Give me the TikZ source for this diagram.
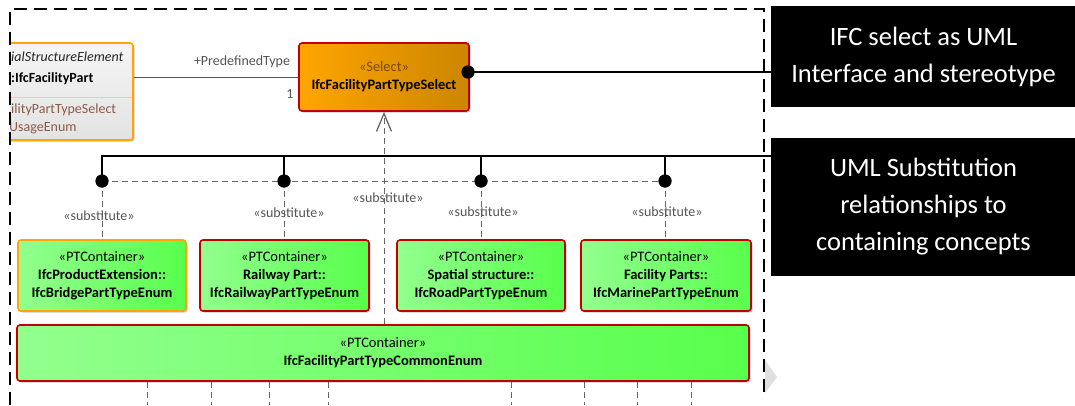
\documentclass[tikz,border=0pt]{standalone}
\usepackage{fontspec}
\setmainfont{Carlito}
\usetikzlibrary{arrows.meta,shadows}
\definecolor{boxred}{HTML}{C00000}
\definecolor{lgreen}{HTML}{92FF8E}
\definecolor{dgreen}{HTML}{58FF4C}
\definecolor{orng}{HTML}{FFA500}
\definecolor{dorng}{HTML}{CC8600}
\definecolor{selbrown}{HTML}{7A4A10}
\definecolor{attrbrown}{HTML}{8C5A48}
\definecolor{linegray}{HTML}{555555}
\tikzset{
  boxshadow/.style={drop shadow={shadow xshift=1.5pt,shadow yshift=-1.5pt,fill=black!22,opacity=1}},
  greenbox/.style={draw=boxred,line width=1.6pt,rounded corners=3pt,left color=lgreen,right color=dgreen,
    align=center,inner sep=0pt,font=\fontsize{14.5}{18}\selectfont,boxshadow},
  bridgebox/.style={greenbox,draw=orng},
  selbox/.style={draw=boxred,line width=1.6pt,rounded corners=3pt,left color=orng,right color=dorng,
    align=center,inner sep=0pt,font=\fontsize{14.4}{17}\selectfont,boxshadow},
  classbox/.style={draw=orng,line width=1.6pt,rounded corners=3pt,top color=black!4,bottom color=black!11,inner sep=0pt,boxshadow},
  callout/.style={fill=black,text=white,align=center,inner sep=0pt,font=\fontsize{26.5}{37}\selectfont},
  bigdot/.style={circle,fill=black,inner sep=0pt,minimum size=13pt},
  bus/.style={draw=black,line width=2.2pt},
  subline/.style={draw=linegray!90,line width=1pt,dash pattern=on 6pt off 4pt},
  sublabel/.style={text=linegray,font=\fontsize{14}{16}\selectfont,inner sep=0pt},
  frameline/.style={draw=black,line width=2.2pt,dash pattern=on 13pt off 7pt},
  txt/.style={inner sep=0pt,font=\fontsize{14}{16}\selectfont},
}
\begin{document}
\begin{tikzpicture}[x=1pt,y=-1pt]
\useasboundingbox (0,0) rectangle (1075,405);

% left class box (clipped by frame)
\begin{scope}
\clip (10,0) rectangle (1075,405);
\node[classbox,minimum width=143pt,minimum height=97pt] (spatial) at (61.5,91.5) {};
\draw[orng!55,line width=1pt] (-20,97) -- (132,97);
\node[txt,anchor=west,text=black!85] (sp1) at (11,57) {\itshape ialStructureElement};
\node[txt,anchor=west] (sp2) at (11,79) {\bfseries :IfcFacilityPart};
\node[txt,anchor=west,text=attrbrown] (sp3) at (11,110) {ilityPartTypeSelect};
\node[txt,anchor=west,text=attrbrown] (sp4) at (9,128) {UsageEnum};
\end{scope}

% select box
\node[selbox,minimum width=170pt,minimum height=68pt] (select) at (384,77)
  {\textcolor{selbrown}{«Select»}\\[1pt] \bfseries IfcFacilityPartTypeSelect};

% association
\draw[linegray,line width=1pt] (select.west -| spatial.east) -- (select.west);
\node[txt,text=linegray] (role) at (242,62) {+PredefinedType};
\node[txt,text=linegray] (mult) at (290,94) {1};

% green boxes
\node[bridgebox,minimum width=168pt,minimum height=71pt] (bridge) at (102,275.5)
  {«PTContainer»\\ \bfseries IfcProductExtension::\\ \bfseries IfcBridgePartTypeEnum};
\node[greenbox,minimum width=169pt,minimum height=71pt] (rail) at (284.5,275.5)
  {«PTContainer»\\ \bfseries Railway Part::\\ \bfseries IfcRailwayPartTypeEnum};
\node[greenbox,minimum width=168pt,minimum height=71pt] (road) at (481,275.5)
  {«PTContainer»\\ \bfseries Spatial structure::\\ \bfseries IfcRoadPartTypeEnum};
\node[greenbox,minimum width=170pt,minimum height=71pt] (marine) at (666,275.5)
  {«PTContainer»\\ \bfseries Facility Parts::\\ \bfseries IfcMarinePartTypeEnum};
\node[greenbox,minimum width=732pt,minimum height=56pt] (common) at (383,353)
  {«PTContainer»\\ \bfseries IfcFacilityPartTypeCommonEnum};

% callouts
\node[callout,minimum width=305pt,minimum height=101pt] (call1) at (923.5,56.5)
  {IFC select as UML\\Interface and stereotype};
\node[callout,minimum width=305pt,minimum height=138pt] (call2) at (923.5,207)
  {UML Substitution\\relationships to\\containing concepts};

% dots
\node[bigdot] (seldot) at (468,72) {};
\node[bigdot] (d1) at (102,181) {};
\node[bigdot] (d2) at (284,181) {};
\node[bigdot] (d3) at (481,181) {};
\node[bigdot] (d4) at (665,181) {};
\coordinate (busE) at (772,156);

% substitution dashed lines
\draw[subline] (d1.center) -- (d4.center);
\draw[subline] (d1.center) -- (d1 |- bridge.north);
\draw[subline] (d2.center) -- (d2 |- rail.north);
\draw[subline] (d3.center) -- (d3 |- road.north);
\draw[subline] (d4.center) -- (d4 |- marine.north);
\draw[subline,-{Straight Barb[length=18pt,width=15pt,line width=1.3pt]}] (select.south |- common.north) -- (select.south);
\node[sublabel] (s0) at (388,198) {«substitute»};
\node[sublabel] (s1) at (99,216) {«substitute»};
\node[sublabel] (s2) at (289,213) {«substitute»};
\node[sublabel] (s3) at (483,212) {«substitute»};
\node[sublabel] (s4) at (667,212) {«substitute»};

% bottom ticks
\foreach \xx/\nm in {147/t1,211/t2,269/t3,328/t4,511/t5,584/t6,637/t7,691/t8}{
  \coordinate (\nm) at (\xx,405);
  \draw[subline] (common.south -| \nm) -- (\nm);
}

% black callout connectors
\draw[bus] (seldot.center) -- (seldot -| call1.west);
\draw[bus] (d1.center) |- (busE);
\draw[bus] (d2.center) -- (d2 |- busE);
\draw[bus] (d3.center) -- (d3 |- busE);
\draw[bus] (d4.center) -- (d4 |- busE);
\node[bigdot] at (seldot) {};
\node[bigdot] at (d1) {};
\node[bigdot] at (d2) {};
\node[bigdot] at (d3) {};
\node[bigdot] at (d4) {};

% chevron and frame
\fill[black!12] (765,360) -- (777,377) -- (765,393) -- cycle;
\draw[frameline] (10,405) -- (10,9) -- (764,9) -- (764,398);
\end{tikzpicture}
\end{document}
